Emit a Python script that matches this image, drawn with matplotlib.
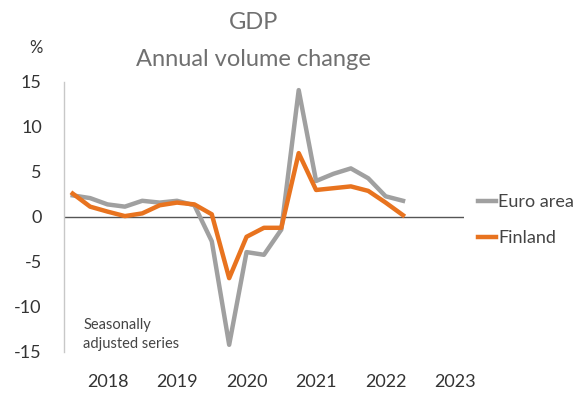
import numpy as np
import matplotlib.pyplot as plt

plt.rcParams['font.family'] = ['Lato', 'DejaVu Sans']

# quarterly data, 2018Q1 - 2022Q4
euro_area = [2.4, 2.1, 1.4, 1.15, 1.8, 1.6, 1.8, 1.3, -2.7, -14.2,
             -3.9, -4.2, -1.4, 14.1, 4.0, 4.8, 5.4, 4.3, 2.3, 1.8]
finland = [2.6, 1.15, 0.6, 0.1, 0.4, 1.3, 1.6, 1.4, 0.3, -6.8,
           -2.2, -1.2, -1.2, 7.1, 3.0, 3.2, 3.4, 2.9, 1.6, 0.2]
years = ['2018', '2019', '2020', '2021', '2022', '2023']
y_ticks = [-15, -10, -5, 0, 5, 10, 15]

x = np.arange(len(euro_area))
year_pos = np.arange(len(years)) * 4 + 2

fig = plt.figure(figsize=(5.82, 3.94), dpi=100)
ax = fig.add_axes([0.110, 0.1066, 0.687, 0.6853])

ax.axhline(0, color='#555555', lw=1.0, zorder=1)
ax.plot(x, euro_area, color='#a0a0a0', lw=3.2, label='Euro area', zorder=2)
ax.plot(x, finland, color='#e8731f', lw=3.2, label='Finland', zorder=3)

ax.set_xlim(-0.5, 22.5)
ax.set_ylim(-15, 15)
ax.set_yticks(y_ticks)
ax.set_yticklabels([str(v) for v in y_ticks])
ax.set_xticks(year_pos)
ax.set_xticklabels(years)
ax.tick_params(axis='both', length=0, labelsize=13, colors='#333333')
ax.tick_params(axis='y', pad=16)
ax.tick_params(axis='x', pad=16)

for s in ['top', 'right', 'bottom']:
    ax.spines[s].set_visible(False)
ax.spines['left'].set_color('#c8c8c8')
ax.spines['left'].set_linewidth(1.0)

fig.text(0.435, 0.942, 'GDP', ha='center', va='center', fontsize=17, color='#707070')
fig.text(0.435, 0.850, 'Annual volume change', ha='center', va='center',
         fontsize=17, color='#707070')
fig.text(0.062, 0.878, '%', ha='center', va='center', fontsize=12, color='#333333')

fig.text(0.143, 0.152, 'Seasonally\nadjusted series', ha='left', va='center',
         fontsize=10.5, color='#444444', linespacing=1.45)

leg = ax.legend(loc='upper left', bbox_to_anchor=(0.995, 0.645), frameon=False,
                fontsize=13, handlelength=1.0, handletextpad=0.1,
                labelspacing=1.1, labelcolor='#444444')

fig.savefig('out.png', dpi=100)
